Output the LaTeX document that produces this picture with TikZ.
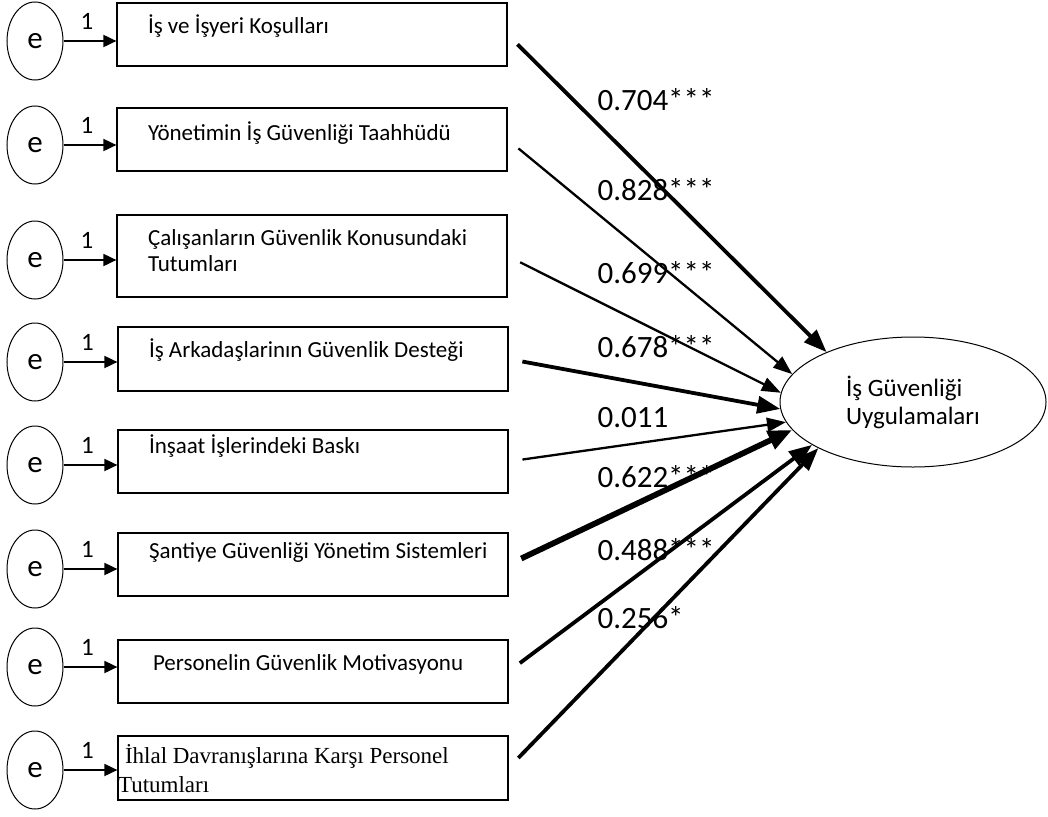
\documentclass[tikz,border=0pt]{standalone}
\usepackage{fontspec}
\setmainfont{Carlito}
\newfontfamily\timesfont{Liberation Serif}
\usetikzlibrary{shapes.geometric,arrows.meta}

\newcommand{\boxtext}[3][63pt]{\parbox[c][#1][t]{390pt}{\vspace*{#2}\leftskip=31pt\strut #3}}

\begin{document}
\begin{tikzpicture}[x=1pt,y=-1pt,
	every node/.style={black},
	varbox/.style={draw,line width=1.2pt,inner sep=0pt,font=\fontsize{23}{26}\selectfont},
	err/.style={draw,ellipse,line width=1pt,minimum width=56pt,minimum height=78pt,inner sep=0pt,font=\fontsize{31}{34}\selectfont},
	fix/.style={-{Triangle[length=13pt,width=12pt]},line width=1.8pt},
	reg/.style={-{Triangle[length=19pt,width=14pt]},line width=2.3pt,shorten <=14pt},
	regthick/.style={reg,line width=3.8pt,-{Triangle[length=23pt,width=17pt]}},
	regheavy/.style={reg,line width=5.8pt,-{Triangle[length=24pt,width=19pt]}},
	coef/.style={anchor=west,font=\fontsize{31}{36}\selectfont}]
	\useasboundingbox (0,0) rectangle (1048,816);

%	observed variables
	\node[varbox] (b1) at (312,34.5) {\boxtext{12pt}{İş ve İşyeri Koşulları}};
	\node[varbox] (b2) at (312,139.5) {\boxtext{14pt}{Yönetimin İş Güvenliği Taahhüdü}};
	\node[varbox] (b3) at (312,256) {\boxtext[82pt]{12pt}{Çalışanların Güvenlik Konusundaki\\Tutumları}};
	\node[varbox] (b4) at (313,359) {\boxtext[64pt]{12pt}{İş Arkadaşlarinın Güvenlik Desteği}};
	\node[varbox] (b5) at (313,461.5) {\boxtext{5pt}{İnşaat İşlerindeki Baskı}};
	\node[varbox] (b6) at (313,564.5) {\boxtext{7pt}{Şantiye Güvenliği Yönetim Sistemleri}};
	\node[varbox] (b7) at (313,671.5) {\boxtext{12pt}{\hspace*{4pt}Personelin Güvenlik Motivasyonu}};
	\node[varbox] (b8) at (313,768) {\parbox[c][64pt][t]{390pt}{\timesfont\fontsize{23}{29}\selectfont\vspace*{7pt}\strut\hspace*{7pt}İhlal Davranışlarına Karşı Personel\\Tutumları}};

%	latent variable
	\node[draw,ellipse,line width=1pt,minimum width=266pt,minimum height=130pt,align=left,font=\fontsize{25}{28}\selectfont] (t) at (913,402) {İş Güvenliği\\Uygulamaları};

%	error terms
	\foreach \i/\y in {1/41,2/145,3/260,4/362,5/465,6/569,7/667,8/770}{
		\node[err] (e\i) at (35,\y) {e};
		\draw[fix] (e\i.east) -- (e\i.east -| b\i.west) node[midway,above=7pt,xshift=-3pt,font=\fontsize{25}{28}\selectfont] (o\i) {1};
	}

%	paths
	\draw[regthick] (b1.east) -- (t.150);
	\draw[reg] (b2.east) -- (t.167);
	\draw[reg] (b3.east) -- (t.176);
	\draw[regthick] (b4.east) -- (t.183);
	\draw[reg] (b5.east) -- (t.189);
	\draw[regheavy] (b6.east) -- (t.193);
	\draw[regthick] (b7.east) -- (t.203);
	\draw[regthick] (b8.east) -- (t.206);

	\node[coef] (c1) at (594,100) {0.704***};
	\node[coef] (c2) at (594,190) {0.828***};
	\node[coef] (c3) at (594,273) {0.699***};
	\node[coef] (c4) at (594,347) {0.678***};
	\node[coef] (c5) at (594,418) {0.011};
	\node[coef] (c6) at (594,477) {0.622***};
	\node[coef] (c7) at (594,550) {0.488***};
	\node[coef] (c8) at (594,618) {0.256*};
\end{tikzpicture}
\end{document}
